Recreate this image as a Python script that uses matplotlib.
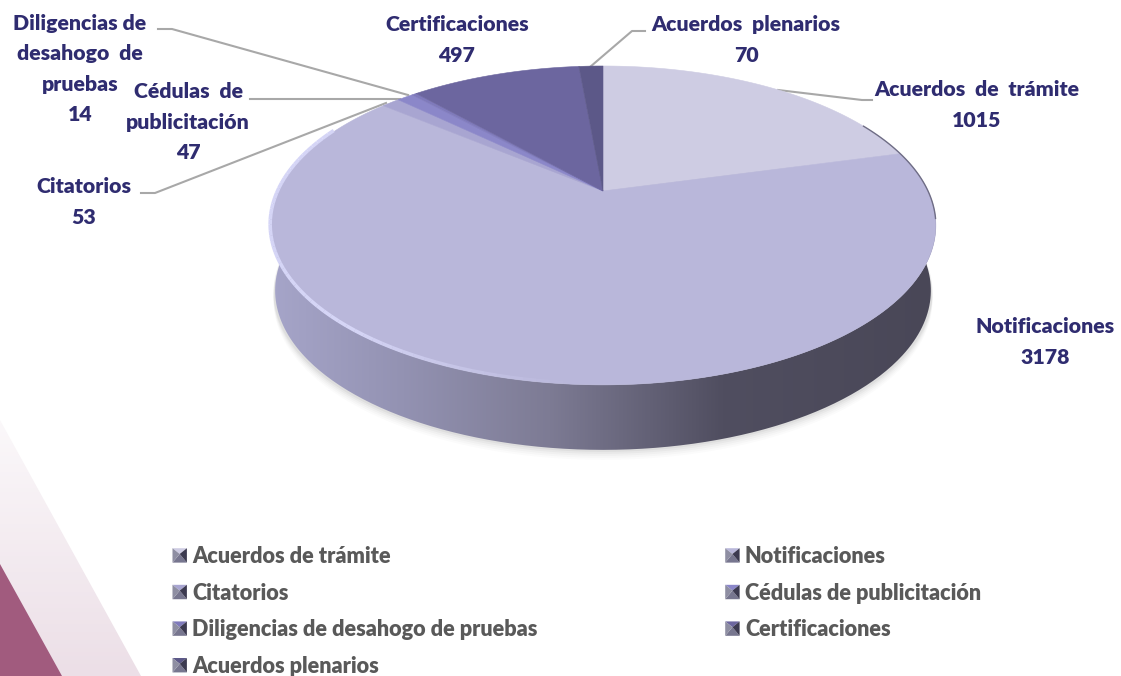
import numpy as np
import matplotlib
matplotlib.use("Agg")
import matplotlib.pyplot as plt
from matplotlib.colors import LinearSegmentedColormap
from matplotlib.legend_handler import HandlerBase
from matplotlib.patches import Patch, PathPatch, Polygon
from matplotlib.path import Path

plt.rcParams["font.family"] = ["Lato", "DejaVu Sans"]

# Data
categories = ["Acuerdos de trámite", "Notificaciones", "Citatorios", "Cédulas de publicitación",
              "Diligencias de desahogo de pruebas", "Certificaciones", "Acuerdos plenarios"]
values = [1015, 3178, 53, 47, 14, 497, 70]
slice_colors = ["#cecce3", "#b9b7da", "#a8a5d1", "#8b87c9", "#7f7abb", "#6c669f", "#5c5888"]
label_names = ["Acuerdos  de  trámite", "Notificaciones", "Citatorios", "Cédulas  de\npublicitación",
               "Diligencias de\ndesahogo  de\npruebas", "Certificaciones", "Acuerdos  plenarios"]

# pie geometry, in pixels
cx, cy = 603, 191
rx, ry, k = 325, 152, 0.216
depth = 65

W, H = 1121, 676
fig = plt.figure(figsize=(W / 100, H / 100), dpi=100)
ax = fig.add_axes([0, 0, 1, 1])
ax.set_xlim(0, W)
ax.set_ylim(H, 0)
ax.axis("off")


def project(angle):
    # angle clockwise from 12 o'clock, perspective view of the disc
    u, v = np.sin(angle), np.cos(angle)
    d = 1 + k * v
    return cx + rx * u / d, cy - ry * v / d


# decoration bottom left
tri_cmap = LinearSegmentedColormap.from_list("tri", ["#fbf8fa", "#ecdfe7"])
im = ax.imshow(np.linspace(0, 1, 64).reshape(-1, 1), extent=[0, 145, 676, 420], cmap=tri_cmap,
               aspect="auto", zorder=0)
tri = Polygon([(0, 420), (141, 676), (0, 676)], closed=True, fc="none", ec="none")
ax.add_patch(tri)
im.set_clip_path(tri)
ax.add_patch(Polygon([(0, 564), (62, 676), (0, 676)], closed=True, fc="#a15b7e", ec="none", zorder=1))

t = np.linspace(0, 2 * np.pi, 721)
ex, ey = project(t)

# soft shadow below the pie
for grow, alpha in zip([10, 8, 6, 4, 2], [0.015, 0.02, 0.025, 0.03, 0.04]):
    ax.fill(cx + (ex - cx) * 0.99, ey + depth + grow, color="#000000", alpha=alpha, lw=0, zorder=2)

# side wall with gradient, bottom edge a bit narrower than the top
side_cmap = LinearSegmentedColormap.from_list(
    "side", [(0, "#a6a5c9"), (0.2, "#9392b2"), (0.42, "#7d7b94"), (0.68, "#504e60"), (1, "#494757")])
xx = np.linspace(0, 1, 256).reshape(1, -1)
im = ax.imshow(xx, extent=[ex.min(), ex.max(), 460, 200], cmap=side_cmap, aspect="auto", zorder=3)
wall_t = np.linspace(np.pi / 2 - 0.35, 3 * np.pi / 2 + 0.35, 361)
wx, wy = project(wall_t)
wall_x = np.r_[wx, (cx + (wx - cx) * 0.985)[::-1]]
wall_y = np.r_[wy, wy[::-1] + depth]
wall = PathPatch(Path(np.column_stack([wall_x, wall_y])), fc="none", ec="none")
ax.add_patch(wall)
im.set_clip_path(wall)

# top face slices, from the values
fractions = np.cumsum([0] + values) / sum(values) * 2 * np.pi
for i in range(len(values)):
    a = np.linspace(fractions[i], fractions[i + 1], max(int(values[i] / 5), 3))
    px, py = project(a)
    ax.fill(np.r_[cx, px], np.r_[cy, py], color=slice_colors[i], lw=0.4, ec=slice_colors[i], zorder=4)

# rim: light on the front left and fading out, dark on the back right
rim_a = np.linspace(np.pi * 1.02, np.pi * 1.64, 60)
rim_x, rim_y = project(rim_a)
rim_alpha = np.clip(np.linspace(0, 3.2, 60), 0, 1)
for j in range(59):
    ax.plot(rim_x[j:j + 2], rim_y[j:j + 2] - 1.2, color="#d5d5f6", lw=2.6, alpha=rim_alpha[j],
            solid_capstyle="butt", zorder=5)
rim_b = np.linspace(np.radians(62), np.radians(100), 60)
ax.plot(*project(rim_b), color="#6f6d85", lw=1, zorder=5)

# leader lines
line_color = "#a8a8a8"
leaders = [
    ([778, 862, 872], [90, 100, 100]),
    ([408, 172, 158], [95, 29, 29]),
    ([400, 250], [99, 99]),
    ([386, 155, 141], [103, 193, 193]),
    ([590, 632, 645], [67, 31, 31]),
]
for lx, ly in leaders:
    ax.plot(lx, ly, color=line_color, lw=1.5, zorder=3)

# data labels
text_color = "#2f2c70"
label_pos = {0: (977, 105), 1: (1045, 342), 2: (84, 202), 3: (188, 122),
             4: (80, 69), 5: (457, 40), 6: (746, 40)}
for i, (x, y) in label_pos.items():
    ax.text(x, y, f"{label_names[i]}\n{values[i]}", ha="center", va="center", fontsize=15.3,
            fontweight=800, color=text_color, linespacing=1.7, zorder=6)


class BevelHandler(HandlerBase):
    # little bevelled square used by the legend keys
    def create_artists(self, legend, orig, xd, yd, width, height, fontsize, trans):
        s = height * 0.95
        x0, y0 = width - s - 2, -yd + (height - s) / 2
        x1, y1 = x0 + s, y0 + s
        mid = (x0 + s / 2, y0 + s * 0.6)
        c = orig.get_facecolor()
        parts = [
            ([(x0, y1), (x1, y1), mid], c),
            ([(x0, y0), (x1, y0), mid], "#77768f"),
            ([(x0, y0), (x0, y1), mid], "#8e8ea2"),
            ([(x1, y0), (x1, y1), mid], "#3c3a50"),
        ]
        return [Polygon(p, closed=True, fc=col, ec="none", transform=trans) for p, col in parts]


handles = [Patch(facecolor=c) for c in slice_colors]
order = [0, 2, 4, 6, 1, 3, 5]
leg = ax.legend([handles[i] for i in order], [categories[i] for i in order], ncols=2,
                handler_map={Patch: BevelHandler()}, loc="upper left", bbox_to_anchor=(168 / W, 1 - 546 / H),
                frameon=False, prop={"size": 15.6, "weight": 800}, labelcolor="#595959",
                handlelength=1.0, handletextpad=0.12, labelspacing=0.72, columnspacing=8.45,
                borderpad=0, borderaxespad=0)
leg.set_zorder(6)

fig.savefig("out.png", dpi=100)
